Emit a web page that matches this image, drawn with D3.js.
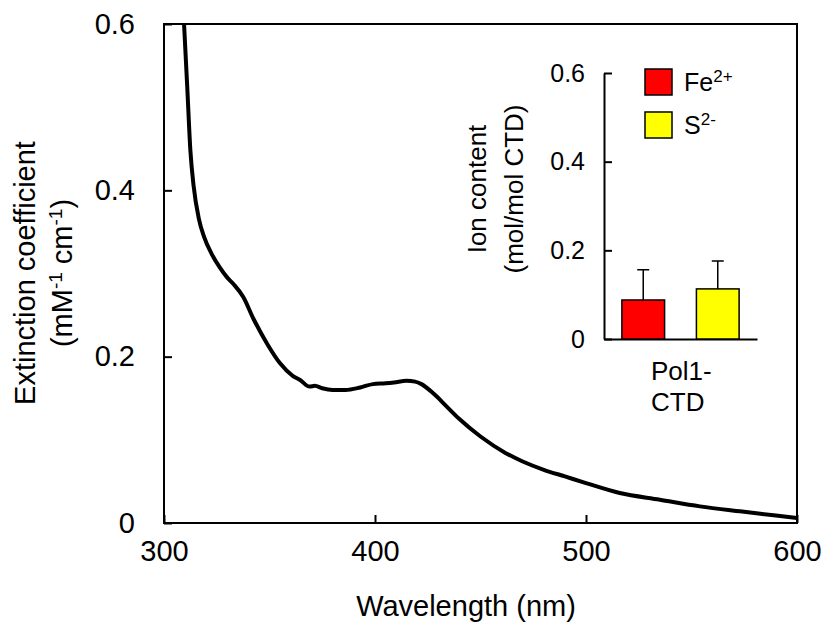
<!DOCTYPE html>
<html>
<head>
<meta charset="utf-8">
<script src="https://cdn.jsdelivr.net/npm/d3@7"></script>
<style>
body { margin: 0; background: #fff; }
svg { font-family: Arial, "Liberation Sans", sans-serif; }
</style>
</head>
<body>
<div id="chart"></div>
<script>
// 吸收光谱
var wavelengths = [309.5, 311, 312.5, 314, 316.5, 319, 322.5, 326.5, 330, 333, 337.5, 342.5, 349, 355, 361, 364.5,
    369, 371.5, 375, 380, 386, 393, 399, 405, 409, 415, 419, 422, 428, 434, 440, 450, 462, 470, 480, 490, 500,
    516, 535, 554, 573, 590, 600];
var extinction = [0.600, 0.525, 0.448, 0.406, 0.366, 0.344, 0.324, 0.307, 0.295, 0.287, 0.272, 0.245, 0.215, 0.192, 0.177, 0.172,
    0.164, 0.165, 0.162, 0.160, 0.160, 0.163, 0.167, 0.168, 0.169, 0.171, 0.170, 0.167, 0.155, 0.140, 0.125, 0.104, 0.084, 0.074, 0.064, 0.056, 0.048,
    0.036, 0.028, 0.020, 0.014, 0.009, 0.006];
var xTicks = [300, 400, 500, 600];
var yTicks = [0, 0.2, 0.4, 0.6];

// 插图：离子含量
var ions = ["Fe", "S"];
var ionCharges = ["2+", "2-"];
var ionValues = [0.088, 0.113];
var ionErrors = [0.068, 0.063];
var ionColors = ["#ff0000", "#ffff00"];
var insetTicks = [0, 0.2, 0.4, 0.6];
var insetCategory = ["Pol1-", "CTD"];

function drawChart(w, h, name) {
    var svg = d3.select(name)
        .append("svg")
        .attr("width", w)
        .attr("height", h);

    // 主图
    var x = d3.scaleLinear().domain([300, 600]).range([164, 797]);
    var y = d3.scaleLinear().domain([0, 0.6]).range([523, 24]);

    svg.append("clipPath").attr("id", "clip")
        .append("rect")
        .attr("x", x.range()[0]).attr("y", y.range()[1])
        .attr("width", x.range()[1] - x.range()[0])
        .attr("height", y.range()[0] - y.range()[1]);

    var line = d3.line()
        .x(function (d, i) { return x(wavelengths[i]); })
        .y(function (d) { return y(d); })
        .curve(d3.curveMonotoneX);

    svg.append("path")
        .attr("d", line(extinction))
        .attr("clip-path", "url(#clip)")
        .attr("fill", "none")
        .attr("stroke", "#000")
        .attr("stroke-width", 4)
        .attr("stroke-linejoin", "round");

    var gx = svg.append("g")
        .attr("transform", "translate(0," + y.range()[0] + ")")
        .call(d3.axisBottom(x).tickValues(xTicks).tickFormat(d3.format("d"))
            .tickSizeInner(-8).tickSizeOuter(0).tickPadding(17));
    var gy = svg.append("g")
        .attr("transform", "translate(" + x.range()[0] + ",0)")
        .call(d3.axisLeft(y).tickValues(yTicks)
            .tickFormat(function (d) { return d === 0 ? "0" : d3.format(".1f")(d); })
            .tickSizeInner(-8).tickSizeOuter(0).tickPadding(29));
    [gx, gy].forEach(function (g) {
        g.attr("font-family", null).attr("font-size", 29);
        g.select(".domain").remove();
        g.selectAll("line").attr("stroke-width", 2);
        g.selectAll("text").attr("fill", "#000");
    });

    // 外框
    svg.append("rect")
        .attr("x", x.range()[0]).attr("y", y.range()[1])
        .attr("width", x.range()[1] - x.range()[0])
        .attr("height", y.range()[0] - y.range()[1])
        .attr("fill", "none")
        .attr("stroke", "#000")
        .attr("stroke-width", 2);

    svg.append("text")
        .attr("x", 466).attr("y", 616)
        .attr("text-anchor", "middle")
        .attr("font-size", 29)
        .text("Wavelength (nm)");

    var yt = svg.append("g").attr("transform", "translate(0,273) rotate(-90)");
    yt.append("text").attr("y", 35).attr("text-anchor", "middle").attr("font-size", 29)
        .text("Extinction coefficient");
    var t2 = yt.append("text").attr("y", 72).attr("text-anchor", "middle").attr("font-size", 29);
    t2.append("tspan").text("(mM");
    t2.append("tspan").attr("dy", -10).attr("font-size", 19).text("-1");
    t2.append("tspan").attr("dy", 10).text(" cm");
    t2.append("tspan").attr("dy", -10).attr("font-size", 19).text("-1");
    t2.append("tspan").attr("dy", 10).text(")");

    // 插图
    var yIn = d3.scaleLinear().domain([0, 0.6]).range([339, 73]);
    var xIn = d3.scaleBand().domain(ions).range([604, 757]).paddingInner(0.427).paddingOuter(0.24);

    var inset = svg.append("g");
    var giy = inset.append("g")
        .attr("transform", "translate(" + xIn.range()[0] + ",0)")
        .call(d3.axisLeft(yIn).tickValues(insetTicks)
            .tickFormat(function (d) { return d === 0 ? "0" : d3.format(".1f")(d); })
            .tickSizeInner(-8).tickSizeOuter(0).tickPadding(19));
    var gix = inset.append("g")
        .attr("transform", "translate(0," + yIn.range()[0] + ")")
        .call(d3.axisBottom(xIn).tickValues([]).tickSizeOuter(0));
    [giy, gix].forEach(function (g) {
        g.attr("font-family", null).attr("font-size", 25);
        g.selectAll("path, line").attr("stroke-width", 2);
        g.selectAll("text").attr("fill", "#000");
    });

    inset.selectAll(".bar")
        .data(ionValues)
        .enter()
        .append("rect")
        .attr("class", "bar")
        .attr("x", function (d, i) { return xIn(ions[i]); })
        .attr("y", function (d) { return yIn(d); })
        .attr("width", xIn.bandwidth())
        .attr("height", function (d) { return yIn(0) - yIn(d); })
        .attr("fill", function (d, i) { return ionColors[i]; })
        .attr("stroke", "#000")
        .attr("stroke-width", 1.5);

    // 误差线（只向上）
    ionValues.forEach(function (v, i) {
        var cx = xIn(ions[i]) + xIn.bandwidth() / 2;
        inset.append("path")
            .attr("d", "M" + cx + "," + yIn(v) + "V" + yIn(v + ionErrors[i]) +
                "M" + (cx - 6) + "," + yIn(v + ionErrors[i]) + "H" + (cx + 6))
            .attr("fill", "none")
            .attr("stroke", "#000")
            .attr("stroke-width", 1.5);
    });

    inset.selectAll(".cat")
        .data(insetCategory)
        .enter()
        .append("text")
        .attr("class", "cat")
        .attr("x", 651)
        .attr("y", function (d, i) { return 380 + i * 31; })
        .attr("font-size", 26)
        .text(function (d) { return d; });

    var it = inset.append("g").attr("transform", "translate(0,189) rotate(-90)");
    it.append("text").attr("y", 486).attr("text-anchor", "middle").attr("font-size", 26).text("Ion content");
    it.append("text").attr("y", 523).attr("text-anchor", "middle").attr("font-size", 26).text("(mol/mol CTD)");

    // 图例
    var legend = inset.selectAll(".legend")
        .data(ions)
        .enter()
        .append("g")
        .attr("class", "legend")
        .attr("transform", function (d, i) { return "translate(645," + (69 + i * 43) + ")"; });
    legend.append("rect")
        .attr("width", 27).attr("height", 26)
        .attr("fill", function (d, i) { return ionColors[i]; })
        .attr("stroke", "#000")
        .attr("stroke-width", 1.5);
    var lt = legend.append("text")
        .attr("x", 39).attr("y", 22)
        .attr("font-size", 25);
    lt.append("tspan").text(function (d) { return d; });
    lt.append("tspan").attr("dy", -9).attr("font-size", 17)
        .text(function (d, i) { return ionCharges[i]; });
}

drawChart(826, 639, "#chart");
</script>
</body>
</html>
